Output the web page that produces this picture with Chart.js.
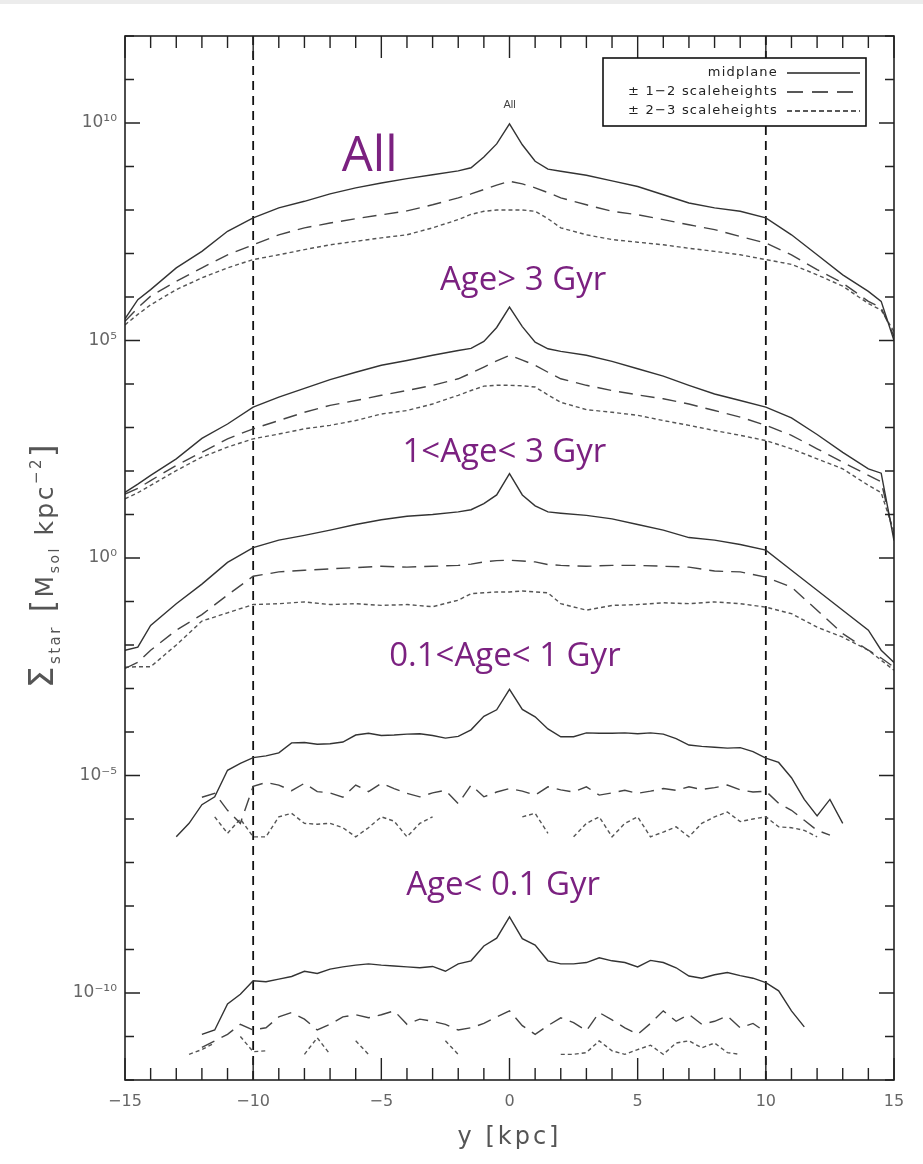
<!DOCTYPE html>
<html>
<head>
<meta charset="utf-8">
<title>Stellar surface density profiles</title>
<script src="https://cdn.jsdelivr.net/npm/chart.js@4.4.1/dist/chart.umd.min.js"></script>
<style>
	html, body { margin: 0; padding: 0; background: #fff; }
</style>
</head>
<body>
<canvas id="profileChart" width="923" height="1164"></canvas>
<script>
// positions along the disc, kpc
const xCoarse = [-15, -14.5, -14, -13, -12, -11, -10, -9, -8, -7, -6, -5, -4, -3, -2, -1.5, -1, -0.5, 0,
	0.5, 1, 1.5, 2, 3, 4, 5, 6, 7, 8, 9, 10, 11, 12, 13, 14, 14.5, 15];
const xFine = [-15, -14.5, -14, -13.5, -13, -12.5, -12, -11.5, -11, -10.5,
	-10, -9.5, -9, -8.5, -8, -7.5, -7, -6.5, -6, -5.5,
	-5, -4.5, -4, -3.5, -3, -2.5, -2, -1.5, -1, -0.5,
	0, 0.5, 1, 1.5, 2, 2.5, 3, 3.5, 4, 4.5,
	5, 5.5, 6, 6.5, 7, 7.5, 8, 8.5, 9, 9.5,
	10, 10.5, 11, 11.5, 12, 12.5, 13, 13.5, 14, 14.5, 15];

// log10 of Sigma_star (null = nothing plotted)
// All stars (on xCoarse)
const allMid = [5.5, 5.94, 6.17, 6.67, 7.05, 7.51, 7.82, 8.05, 8.2, 8.37, 8.51, 8.62, 8.72, 8.81, 8.9, 8.97, 9.22, 9.52, 9.98,
	9.5, 9.12, 8.94, 8.89, 8.8, 8.67, 8.54, 8.35, 8.16, 8.05, 7.97, 7.82, 7.43, 6.97, 6.51, 6.13, 5.9, 5.0];
const allH12 = [5.44, 5.75, 6.02, 6.36, 6.67, 6.97, 7.2, 7.43, 7.59, 7.7, 7.8, 7.89, 7.98, 8.12, 8.28, 8.37, 8.47, 8.57, 8.66,
	8.6, 8.51, 8.4, 8.28, 8.12, 7.97, 7.89, 7.78, 7.66, 7.55, 7.39, 7.24, 6.97, 6.63, 6.32, 5.9, 5.75, 5.1];
const allH23 = [5.36, 5.6, 5.82, 6.17, 6.44, 6.67, 6.86, 6.97, 7.09, 7.2, 7.28, 7.36, 7.43, 7.59, 7.78, 7.9, 7.97, 8.0, 8.0,
	8.0, 7.97, 7.8, 7.59, 7.43, 7.32, 7.26, 7.2, 7.12, 7.05, 6.97, 6.86, 6.75, 6.51, 6.25, 5.85, 5.7, 5.2];
// Age > 3 Gyr
const oldMid = [1.51, 1.7, 1.9, 2.28, 2.75, 3.08, 3.47, 3.7, 3.9, 4.1, 4.27, 4.43, 4.54, 4.66, 4.77, 4.82, 4.98, 5.3, 5.77,
	5.32, 4.96, 4.81, 4.75, 4.66, 4.52, 4.35, 4.18, 3.97, 3.77, 3.62, 3.47, 3.22, 2.84, 2.43, 2.05, 1.95, 0.4];
const oldH12 = [1.47, 1.6, 1.78, 2.13, 2.43, 2.74, 2.97, 3.16, 3.35, 3.51, 3.62, 3.74, 3.85, 3.97, 4.12, 4.25, 4.39, 4.53, 4.66,
	4.55, 4.43, 4.27, 4.12, 3.97, 3.85, 3.75, 3.66, 3.54, 3.39, 3.24, 3.05, 2.82, 2.51, 2.2, 1.9, 1.75, 0.5];
const oldH23 = [1.36, 1.5, 1.67, 2.01, 2.32, 2.55, 2.74, 2.85, 2.97, 3.05, 3.16, 3.31, 3.39, 3.54, 3.74, 3.85, 3.95, 3.97, 3.97,
	3.96, 3.93, 3.75, 3.58, 3.41, 3.35, 3.28, 3.16, 3.05, 2.93, 2.82, 2.7, 2.51, 2.28, 2.05, 1.67, 1.5, 0.6];
// 1 < Age < 3 Gyr
const midMid = [-2.12, -2.05, -1.55, -1.05, -0.6, -0.1, 0.24, 0.41, 0.52, 0.64, 0.77, 0.88, 0.96, 1.0, 1.06, 1.11, 1.25, 1.45, 1.94,
	1.45, 1.2, 1.06, 1.03, 0.98, 0.9, 0.77, 0.64, 0.47, 0.41, 0.31, 0.18, -0.28, -0.74, -1.2, -1.66, -2.12, -2.4];
const midH12 = [-2.54, -2.4, -2.12, -1.66, -1.3, -0.85, -0.42, -0.32, -0.28, -0.25, -0.22, -0.19, -0.21, -0.19, -0.17, -0.14, -0.09, -0.06, -0.05,
	-0.07, -0.09, -0.15, -0.17, -0.19, -0.17, -0.17, -0.19, -0.21, -0.3, -0.32, -0.44, -0.67, -1.2, -1.74, -2.12, -2.3, -2.51];
const midH23 = [-2.51, -2.5, -2.5, -2.0, -1.45, -1.26, -1.07, -1.05, -1.01, -1.07, -1.05, -1.09, -1.07, -1.12, -0.97, -0.82, -0.8, -0.78, -0.78,
	-0.76, -0.78, -0.8, -1.05, -1.2, -1.09, -1.07, -1.03, -1.05, -1.01, -1.05, -1.13, -1.28, -1.59, -1.82, -2.12, -2.35, -2.58];
// 0.1 < Age < 1 Gyr (on xFine)
const youngMid = [null, null, null, null, -6.41, -6.1, -5.67, -5.49, -4.88, -4.72,
	-4.59, -4.55, -4.48, -4.25, -4.24, -4.28, -4.27, -4.23, -4.07, -4.03,
	-4.08, -4.07, -4.05, -4.04, -4.08, -4.14, -4.1, -3.95, -3.64, -3.49,
	-3.02, -3.48, -3.65, -3.93, -4.11, -4.11, -4.02, -4.03, -4.03, -4.02,
	-4.04, -4.02, -4.05, -4.15, -4.3, -4.33, -4.35, -4.37, -4.36, -4.45,
	-4.6, -4.7, -5.05, -5.55, -5.93, -5.55, -6.1, null, null, null, null];
const youngH12 = [null, null, null, null, null, null, -5.5, -5.41, -5.8, -6.1,
	-5.25, -5.16, -5.22, -5.35, -5.18, -5.37, -5.4, -5.5, -5.22, -5.37,
	-5.18, -5.3, -5.41, -5.49, -5.4, -5.34, -5.65, -5.22, -5.49, -5.38,
	-5.3, -5.36, -5.45, -5.26, -5.33, -5.38, -5.26, -5.45, -5.4, -5.34,
	-5.41, -5.36, -5.3, -5.34, -5.26, -5.32, -5.28, -5.22, -5.33, -5.38,
	-5.36, -5.64, -5.8, -6.03, -6.26, -6.37, null, null, null, null, null];
const youngH23 = [null, null, null, null, null, null, null, -5.95, -6.33, -6.0,
	-6.41, -6.41, -5.95, -5.87, -6.1, -6.12, -6.1, -6.2, -6.41, -6.2,
	-5.95, -6.05, -6.41, -6.1, -5.95, null, -6.41, null, -6.41, null,
	null, -5.95, -5.87, -6.33, null, -6.41, -6.1, -5.95, -6.41, -6.1,
	-5.95, -6.41, -6.3, -6.18, -6.41, -6.1, -5.95, -5.84, -6.06, -6.0,
	-5.95, -6.18, -6.2, -6.26, -6.41, null, null, null, null, null, null];
// Age < 0.1 Gyr (on xFine)
const babyMid = [null, null, null, null, null, null, -10.95, -10.85, -10.25, -10.03,
	-9.72, -9.74, -9.68, -9.62, -9.5, -9.55, -9.45, -9.4, -9.36, -9.33,
	-9.36, -9.38, -9.4, -9.42, -9.39, -9.5, -9.33, -9.26, -8.92, -8.74,
	-8.25, -8.75, -8.9, -9.26, -9.33, -9.33, -9.3, -9.19, -9.26, -9.3,
	-9.4, -9.25, -9.3, -9.42, -9.61, -9.66, -9.58, -9.53, -9.6, -9.66,
	-9.76, -9.95, -10.41, -10.78, null, null, null, null, null, null, null];
const babyH12 = [null, null, null, null, null, null, -11.25, -11.1, -10.95, -10.72,
	-10.85, -10.8, -10.55, -10.45, -10.6, -10.85, -10.72, -10.55, -10.5, -10.57,
	-10.5, -10.41, -10.72, -10.6, -10.65, -10.72, -10.85, -10.8, -10.7, -10.55,
	-10.41, -10.75, -10.95, -10.75, -10.57, -10.68, -10.87, -10.45, -10.62, -10.8,
	-10.95, -10.7, -10.41, -10.65, -10.49, -10.72, -10.65, -10.53, -10.8, -10.7,
	-10.9, null, null, null, null, null, null, null, null, null, null];
const babyH23 = [null, null, null, null, null, -11.41, -11.3, -11.15, null, -11.0,
	-11.35, -11.33, null, null, -11.41, -11.03, -11.41, null, -11.1, -11.41,
	null, null, null, null, null, -11.1, -11.41, null, null, null,
	null, null, null, null, -11.41, -11.41, -11.37, -11.1, -11.33, -11.41,
	-11.3, -11.2, -11.41, -11.15, -11.1, -11.26, -11.15, -11.37, -11.41, null,
	null, null, null, null, null, null, null, null, null, null, null];

const groupNames = ['All', 'Age> 3 Gyr', '1<Age< 3 Gyr', '0.1<Age< 1 Gyr', 'Age< 0.1 Gyr'];
const layerNames = ['midplane', '\u00b1 1\u22122 scaleheights', '\u00b1 2\u22123 scaleheights'];
const markerX = [-10, 10];
const xLabelTicks = [-15, -10, -5, 0, 5, 10, 15];
const yLabelExps = [-10, -5, 0, 5, 10];

const groups = [
	{ xs: xCoarse, layers: [allMid, allH12, allH23] },
	{ xs: xCoarse, layers: [oldMid, oldH12, oldH23] },
	{ xs: xCoarse, layers: [midMid, midH12, midH23] },
	{ xs: xFine, layers: [youngMid, youngH12, youngH23] },
	{ xs: xFine, layers: [babyMid, babyH12, babyH23] },
];

// line look per layer: midplane, 1-2 and 2-3 scaleheights
const layerStyle = [
	{ color: '#333', dash: [] },
	{ color: '#444', dash: [14, 8] },
	{ color: '#555', dash: [4, 3] },
];

const datasets = [];
groups.forEach((g, gi) => {
	g.layers.forEach((vals, li) => {
		datasets.push({
			label: groupNames[gi] + ' ' + layerNames[li],
			data: g.xs.map((x, i) => ({ x: x, y: vals[i] === null ? null : Math.pow(10, vals[i]) })),
			borderColor: layerStyle[li].color,
			borderDash: layerStyle[li].dash,
			borderWidth: 1.4,
			pointRadius: 0,
			fill: false,
			tension: 0,
			spanGaps: false,
		});
	});
});

const supMap = { '0': '\u2070', '1': '\u00b9', '2': '\u00b2', '3': '\u00b3', '4': '\u2074', '5': '\u2075',
	'6': '\u2076', '7': '\u2077', '8': '\u2078', '9': '\u2079', '-': '\u207b' };
function sup(n) {
	return String(n).split('').map(c => supMap[c]).join('');
}

// where the purple captions sit, in data units (x in kpc, y as log10)
const captionAt = [
	{ x: -6.54, e: 8.9, align: 'left', size: 49 },
	{ x: 0.53, e: 6.16, align: 'center', size: 33 },
	{ x: -0.2, e: 2.21, align: 'center', size: 33 },
	{ x: -0.18, e: -2.48, align: 'center', size: 33 },
	{ x: -0.25, e: -7.75, align: 'center', size: 33 },
];

const decor = {
	id: 'decor',
	beforeDraw(chart) {
		const ctx = chart.ctx;
		ctx.save();
		ctx.fillStyle = '#ececec';
		ctx.fillRect(0, 0, chart.width, 4);
		ctx.restore();
	},
	beforeDatasetsDraw(chart) {
		const { ctx, chartArea: a, scales: { x } } = chart;
		ctx.save();
		ctx.strokeStyle = '#111';
		ctx.lineWidth = 1.8;
		ctx.setLineDash([9, 6]);
		markerX.forEach(v => {
			const px = x.getPixelForValue(v);
			ctx.beginPath();
			ctx.moveTo(px, a.top);
			ctx.lineTo(px, a.bottom);
			ctx.stroke();
		});
		ctx.restore();
	},
	afterDatasetsDraw(chart) {
		const { ctx, chartArea: a, scales: { x, y } } = chart;
		ctx.save();
		ctx.strokeStyle = '#222';
		ctx.lineWidth = 1.6;
		ctx.strokeRect(a.left, a.top, a.right - a.left, a.bottom - a.top);
		// inward tick marks on all four sides
		ctx.lineWidth = 1.4;
		ctx.beginPath();
		x.ticks.forEach(t => {
			const px = x.getPixelForValue(t.value);
			const len = xLabelTicks.includes(t.value) ? 22 : 12;
			ctx.moveTo(px, a.bottom); ctx.lineTo(px, a.bottom - len);
			ctx.moveTo(px, a.top); ctx.lineTo(px, a.top + len);
		});
		y.ticks.forEach(t => {
			const py = y.getPixelForValue(t.value);
			const e = Math.round(Math.log10(t.value));
			const len = yLabelExps.includes(e) ? 15 : 9;
			ctx.moveTo(a.left, py); ctx.lineTo(a.left + len, py);
			ctx.moveTo(a.right, py); ctx.lineTo(a.right - len, py);
		});
		ctx.stroke();
		ctx.restore();
	},
	afterDraw(chart) {
		const { ctx, chartArea: a, scales: { x, y } } = chart;
		ctx.save();

		// legend box
		const bl = a.right - 291, bt = a.top + 22, br = a.right - 28, bb = a.top + 90;
		ctx.fillStyle = '#fff';
		ctx.fillRect(bl, bt, br - bl, bb - bt);
		ctx.strokeStyle = '#111';
		ctx.lineWidth = 1.6;
		ctx.strokeRect(bl, bt, br - bl, bb - bt);
		ctx.font = '13px "DejaVu Sans"';
		ctx.letterSpacing = '1.2px';
		ctx.textAlign = 'right';
		ctx.textBaseline = 'middle';
		layerNames.forEach((name, i) => {
			const ry = bt + 15 + i * 19;
			ctx.fillStyle = '#222';
			ctx.fillText(name, br - 88, ry);
			ctx.strokeStyle = '#222';
			ctx.lineWidth = 1.6;
			ctx.setLineDash(layerStyle[i].dash.length ? (i === 1 ? [16, 9] : [5, 3]) : []);
			ctx.beginPath();
			ctx.moveTo(br - 79, ry);
			ctx.lineTo(br - 6, ry);
			ctx.stroke();
		});
		ctx.setLineDash([]);
		ctx.letterSpacing = '0px';

		// small caption above the top peak
		ctx.fillStyle = '#444';
		ctx.font = '11px "Liberation Sans"';
		ctx.textAlign = 'center';
		ctx.textBaseline = 'alphabetic';
		ctx.fillText('All', x.getPixelForValue(0), y.getPixelForValue(Math.pow(10, 10.34)));

		// purple captions
		ctx.fillStyle = '#7b2180';
		captionAt.forEach((c, i) => {
			ctx.font = c.size + 'px "Open Sans"';
			ctx.textAlign = c.align;
			ctx.fillText(groupNames[i], x.getPixelForValue(c.x), y.getPixelForValue(Math.pow(10, c.e)));
		});

		// x axis title
		ctx.fillStyle = '#555';
		ctx.font = '24px "DejaVu Sans"';
		ctx.letterSpacing = '3px';
		ctx.textAlign = 'center';
		ctx.textBaseline = 'middle';
		ctx.fillText('y [kpc]', x.getPixelForValue(0), a.bottom + 58);

		// y axis title with sub/superscripts
		const parts = [
			{ t: '\u03a3', size: 34, dy: 0 },
			{ t: 'star', size: 15, dy: 7 },
			{ t: ' [', size: 32, dy: 0 },
			{ t: 'M', size: 25, dy: 0 },
			{ t: 'sol', size: 14, dy: 6 },
			{ t: ' kpc', size: 25, dy: 0 },
			{ t: '\u22122', size: 15, dy: -12 },
			{ t: ']', size: 32, dy: 0 },
		];
		ctx.letterSpacing = '2.5px';
		ctx.textAlign = 'left';
		ctx.textBaseline = 'alphabetic';
		let total = 0;
		parts.forEach(p => { ctx.font = p.size + 'px "DejaVu Sans"'; p.w = ctx.measureText(p.t).width; total += p.w; });
		ctx.translate(53, (a.top + a.bottom) / 2 + 7);
		ctx.rotate(-Math.PI / 2);
		let u = -total / 2;
		parts.forEach(p => {
			ctx.font = p.size + 'px "DejaVu Sans"';
			ctx.fillText(p.t, u, p.dy);
			u += p.w;
		});
		ctx.restore();
	},
};

new Chart(document.getElementById('profileChart'), {
	type: 'line',
	data: { datasets: datasets },
	options: {
		responsive: false,
		animation: false,
		events: [],
		layout: { padding: { left: 0, right: 29, top: 36, bottom: 12 } },
		plugins: {
			legend: { display: false },
			tooltip: { enabled: false },
		},
		scales: {
			x: {
				type: 'linear',
				min: -15,
				max: 15,
				grid: { display: false, drawTicks: false },
				border: { display: false },
				afterBuildTicks: s => {
					const t = [];
					for (let v = -15; v <= 15; v++) t.push({ value: v });
					s.ticks = t;
				},
				afterFit: s => { s.height = 72; },
				ticks: {
					autoSkip: false,
					maxRotation: 0,
					padding: 12,
					color: '#666',
					font: { family: 'DejaVu Sans', size: 16 },
					callback: v => xLabelTicks.includes(v) ? (v < 0 ? '\u2212' + Math.abs(v) : String(v)) : '',
				},
			},
			y: {
				type: 'logarithmic',
				min: 1e-12,
				max: 1e12,
				grid: { display: false, drawTicks: false },
				border: { display: false },
				afterBuildTicks: s => {
					const t = [];
					for (let e = -12; e <= 12; e++) t.push({ value: Math.pow(10, e) });
					s.ticks = t;
				},
				afterFit: s => { s.width = 125; },
				ticks: {
					autoSkip: false,
					padding: 8,
					color: '#666',
					font: { family: 'DejaVu Sans', size: 17 },
					callback: v => {
						const e = Math.round(Math.log10(v));
						return yLabelExps.includes(e) ? '10' + sup(e) : '';
					},
				},
			},
		},
	},
	plugins: [decor],
});
</script>
</body>
</html>
